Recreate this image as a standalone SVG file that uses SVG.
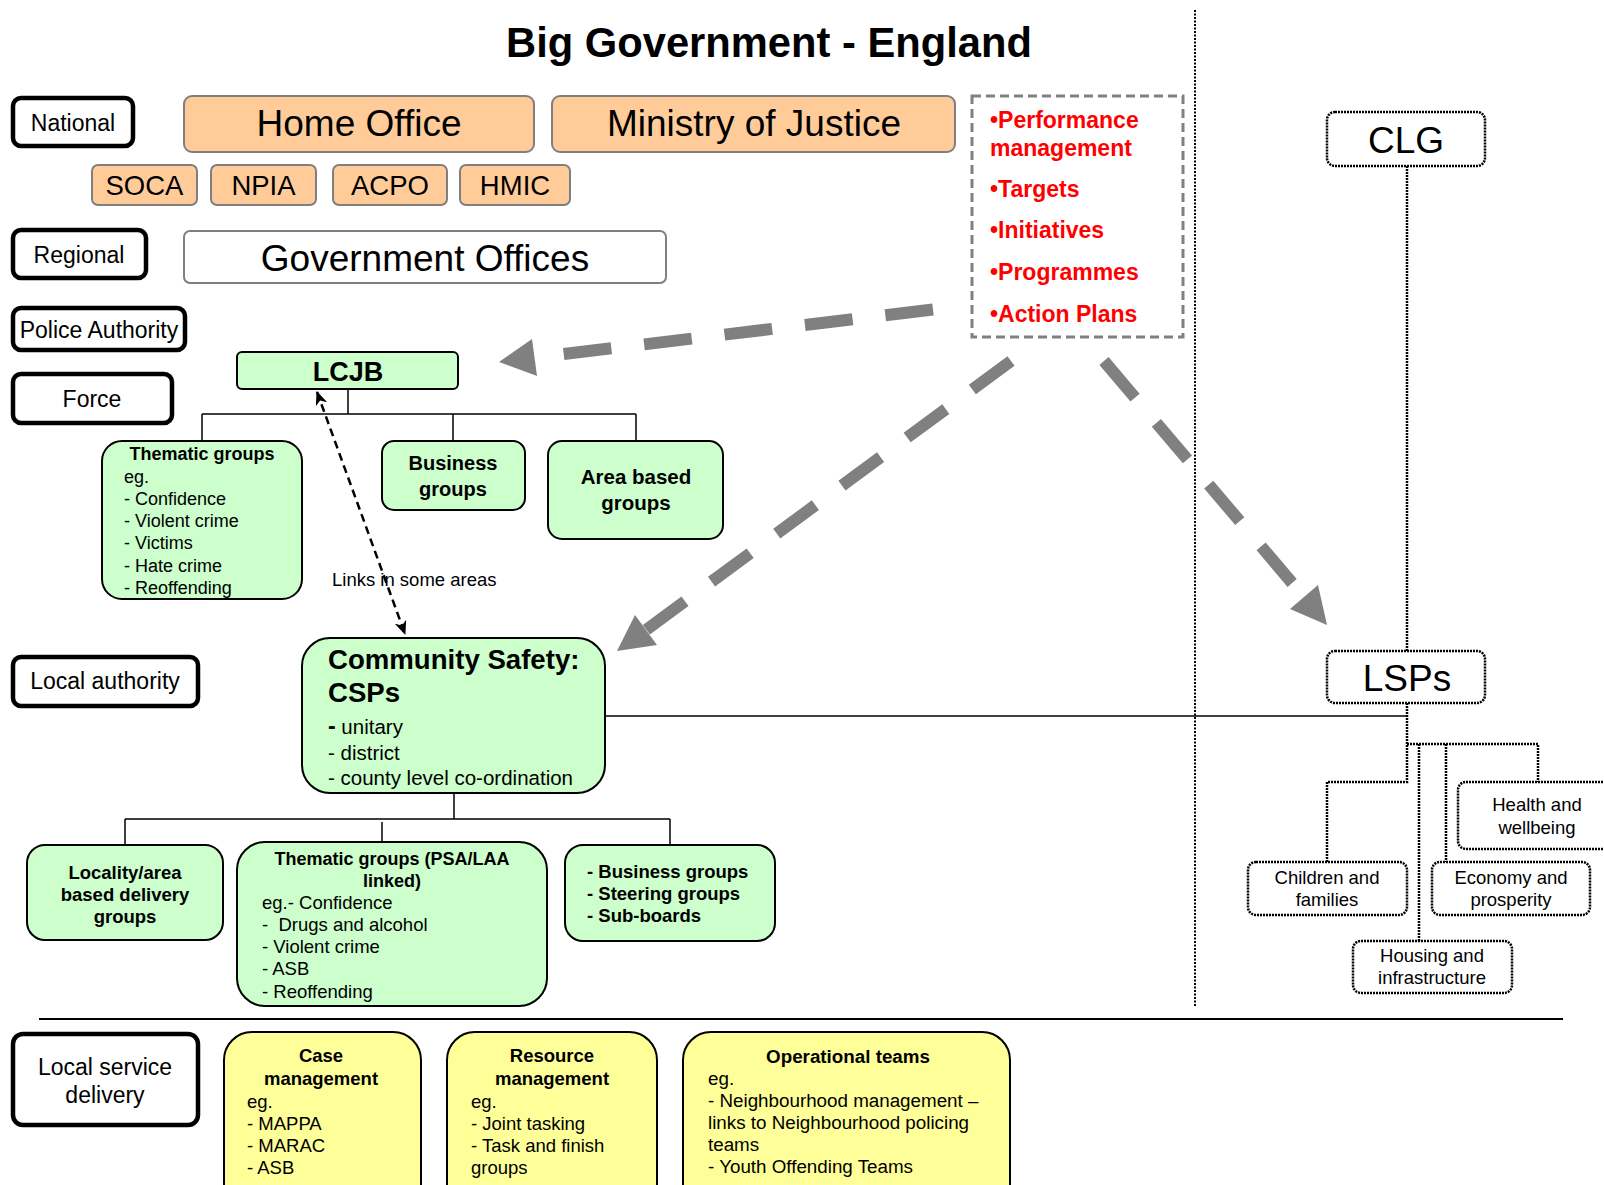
<svg xmlns="http://www.w3.org/2000/svg" width="1604" height="1185" viewBox="0 0 1604 1185">
<defs>
<style>
text{font-family:"Liberation Sans",Arial,sans-serif;fill:#000}
.lab rect{fill:#fff;stroke:#000;stroke-width:4.5}
.lab text{font-size:23px;text-anchor:middle}
.org rect{fill:#FFCC99;stroke:#7f7f7f;stroke-width:2}
.grn rect{fill:#CCFFCC;stroke:#000;stroke-width:2}
.yel rect{fill:#FFFF99;stroke:#000;stroke-width:2}
.dot rect{fill:#fff;stroke:#000;stroke-width:2.5;stroke-dasharray:2 1}
.dot text{font-size:18.5px;text-anchor:middle}
.b{font-weight:bold}
.c{text-anchor:middle}
.red{fill:#FF0000;font-weight:bold;font-size:23px}
.solid{fill:none;stroke:#000;stroke-width:1.5}
.dotl{fill:none;stroke:#000;stroke-width:2.5;stroke-dasharray:2 1}
.big{fill:none;stroke:#808080;stroke-width:12;stroke-dasharray:48 33}
.head{fill:#808080}
</style>
<marker id="ah" viewBox="0 0 14 12" refX="13" refY="6" markerWidth="14" markerHeight="12" markerUnits="userSpaceOnUse" orient="auto-start-reverse">
<path d="M0,0 L14,6 L0,12 L4,6 Z" fill="#000"/>
</marker>
</defs>
<rect width="1604" height="1185" fill="#fff"/>

<text x="769" y="57" class="b c" font-size="41.7">Big Government - England</text>

<g id="dividers">
<line x1="1195" y1="10" x2="1195" y2="1006" stroke="#000" stroke-width="2" stroke-dasharray="2 1.5"/>
<line x1="39" y1="1019" x2="1563" y2="1019" stroke="#000" stroke-width="2"/>
</g>

<g id="label-national" class="lab"><rect x="13" y="98" width="120" height="48" rx="8"/><text x="73" y="131">National</text></g>
<g id="label-regional" class="lab"><rect x="13" y="230" width="133" height="48" rx="8"/><text x="79" y="263">Regional</text></g>
<g id="label-police" class="lab"><rect x="13" y="308" width="172" height="42" rx="8"/><text x="99" y="338">Police Authority</text></g>
<g id="label-force" class="lab"><rect x="13" y="374" width="159" height="49" rx="8"/><text x="92" y="407">Force</text></g>
<g id="label-la" class="lab"><rect x="13" y="657" width="185" height="49" rx="8"/><text x="105" y="689">Local authority</text></g>
<g id="label-lsd" class="lab"><rect x="13" y="1034" width="185" height="91" rx="10"/><text x="105" y="1075">Local service</text><text x="105" y="1103">delivery</text></g>

<g id="home-office" class="org"><rect x="184" y="96" width="350" height="56" rx="8"/><text x="359" y="136" class="c" font-size="37">Home Office</text></g>
<g id="moj" class="org"><rect x="552" y="96" width="403" height="56" rx="8"/><text x="754" y="136" class="c" font-size="37">Ministry of Justice</text></g>
<g id="soca" class="org"><rect x="92" y="165" width="105" height="40" rx="6"/><text x="144.5" y="195" class="c" font-size="27.5">SOCA</text></g>
<g id="npia" class="org"><rect x="211" y="165" width="105" height="40" rx="6"/><text x="263.5" y="195" class="c" font-size="27.5">NPIA</text></g>
<g id="acpo" class="org"><rect x="333" y="165" width="114" height="40" rx="6"/><text x="390" y="195" class="c" font-size="27.5">ACPO</text></g>
<g id="hmic" class="org"><rect x="460" y="165" width="110" height="40" rx="6"/><text x="515" y="195" class="c" font-size="27.5">HMIC</text></g>

<g id="gov-offices"><rect x="184" y="231" width="482" height="52" rx="6" fill="#fff" stroke="#7f7f7f" stroke-width="2"/><text x="425" y="271" class="c" font-size="37">Government Offices</text></g>

<g id="perf-box">
<rect x="972" y="96" width="211" height="241" fill="none" stroke="#808080" stroke-width="3" stroke-dasharray="9 5"/>
<text x="990" y="128" class="red">•Performance</text>
<text x="990" y="156" class="red">management</text>
<text x="990" y="197" class="red">•Targets</text>
<text x="990" y="238" class="red">•Initiatives</text>
<text x="990" y="280" class="red">•Programmes</text>
<text x="990" y="322" class="red">•Action Plans</text>
</g>

<g id="clg" class="dot"><rect x="1327" y="112" width="158" height="54" rx="8"/><text x="1406" y="153" style="font-size:37px">CLG</text></g>
<g id="lsps" class="dot"><rect x="1327" y="651" width="158" height="52" rx="8"/><text x="1407" y="691" style="font-size:37px">LSPs</text></g>
<g id="health" class="dot"><rect x="1458" y="782" width="156" height="67" rx="8"/><text x="1537" y="811">Health and</text><text x="1537" y="834">wellbeing</text></g>
<g id="children" class="dot"><rect x="1248" y="862" width="159" height="53" rx="8"/><text x="1327" y="884">Children and</text><text x="1327" y="906">families</text></g>
<g id="economy" class="dot"><rect x="1432" y="862" width="158" height="53" rx="8"/><text x="1511" y="884">Economy and</text><text x="1511" y="906">prosperity</text></g>
<g id="housing" class="dot"><rect x="1353" y="941" width="159" height="52" rx="8"/><text x="1432" y="962">Housing and</text><text x="1432" y="984">infrastructure</text></g>

<g id="lcjb" class="grn"><rect x="237" y="352" width="221" height="37" rx="5"/><text x="348" y="381" class="b c" font-size="27">LCJB</text></g>

<g id="lcjb-thematic" class="grn" font-size="18">
<rect x="102" y="441" width="200" height="158" rx="20"/>
<text x="202" y="460" class="b c">Thematic groups</text>
<text x="124" y="483">eg.</text>
<text x="124" y="505">- Confidence</text>
<text x="124" y="527">- Violent crime</text>
<text x="124" y="549">- Victims</text>
<text x="124" y="572">- Hate crime</text>
<text x="124" y="594">- Reoffending</text>
</g>
<g id="lcjb-business" class="grn" font-size="20">
<rect x="382" y="441" width="143" height="69" rx="12"/>
<text x="453" y="470" class="b c">Business</text>
<text x="453" y="496" class="b c">groups</text>
</g>
<g id="lcjb-area" class="grn" font-size="20.5">
<rect x="548" y="441" width="175" height="98" rx="14"/>
<text x="636" y="484" class="b c">Area based</text>
<text x="636" y="510" class="b c">groups</text>
</g>

<g id="csp" class="grn">
<rect x="302" y="638" width="303" height="155" rx="28"/>
<text x="328" y="669" class="b" font-size="27.6">Community Safety:</text>
<text x="328" y="702" class="b" font-size="27.6">CSPs</text>
<text x="328" y="734" font-size="20.5"><tspan class="b" font-size="23">-</tspan> unitary</text>
<text x="328" y="760" font-size="20.5">- district</text>
<text x="328" y="785" font-size="20.5">- county level co-ordination</text>
</g>

<g id="locality" class="grn" font-size="18.5">
<rect x="27" y="845" width="196" height="95" rx="18"/>
<text x="125" y="879" class="b c">Locality/area</text>
<text x="125" y="901" class="b c">based delivery</text>
<text x="125" y="923" class="b c">groups</text>
</g>
<g id="csp-thematic" class="grn" font-size="18.5">
<rect x="237" y="842" width="310" height="164" rx="28"/>
<text x="392" y="865" class="b c" font-size="18">Thematic groups (PSA/LAA</text>
<text x="392" y="887" class="b c" font-size="18">linked)</text>
<text x="262" y="909">eg.- Confidence</text>
<text x="262" y="931" style="white-space:pre">-  Drugs and alcohol</text>
<text x="262" y="953">- Violent crime</text>
<text x="262" y="975">- ASB</text>
<text x="262" y="998">- Reoffending</text>
</g>
<g id="csp-business" class="grn" font-size="18.5">
<rect x="565" y="845" width="210" height="96" rx="18"/>
<text x="587" y="878" class="b">- Business groups</text>
<text x="587" y="900" class="b">- Steering groups</text>
<text x="587" y="922" class="b">- Sub-boards</text>
</g>

<g id="case" class="yel" font-size="18.5">
<rect x="224" y="1032" width="197" height="190" rx="28"/>
<text x="321" y="1062" class="b c">Case</text>
<text x="321" y="1085" class="b c">management</text>
<text x="247" y="1108">eg.</text>
<text x="247" y="1130">- MAPPA</text>
<text x="247" y="1152">- MARAC</text>
<text x="247" y="1174">- ASB</text>
</g>
<g id="resource" class="yel" font-size="18.5">
<rect x="447" y="1032" width="210" height="190" rx="28"/>
<text x="552" y="1062" class="b c">Resource</text>
<text x="552" y="1085" class="b c">management</text>
<text x="471" y="1108">eg.</text>
<text x="471" y="1130">- Joint tasking</text>
<text x="471" y="1152">- Task and finish</text>
<text x="471" y="1174">groups</text>
</g>
<g id="operational" class="yel" font-size="18.8">
<rect x="683" y="1032" width="327" height="190" rx="28"/>
<text x="848" y="1063" class="b c">Operational teams</text>
<text x="708" y="1085">eg.</text>
<text x="708" y="1107">- Neighbourhood management –</text>
<text x="708" y="1129">links to Neighbourhood policing</text>
<text x="708" y="1151">teams</text>
<text x="708" y="1173">- Youth Offending Teams</text>
</g>

<g id="connectors">
<path class="solid" d="M348 389V414M202 414H636M202 414V441M453 414V441M636 414V441"/>
<path class="solid" d="M454 793V819M125 819H670M125 819V845M382 822V842M670 819V845"/>
<path class="solid" d="M605 716H1407"/>
<path class="dotl" d="M1407 166V651M1407 703V782H1327V862M1407 744H1538V782M1419 744V941M1446 744V862"/>
<line x1="317" y1="392" x2="405" y2="634" stroke="#000" stroke-width="2.5" stroke-dasharray="8 5" marker-start="url(#ah)" marker-end="url(#ah)"/>
<text x="332" y="586" font-size="18.5">Links in some areas</text>
<line class="big" x1="933" y1="309.5" x2="535" y2="357.5"/>
<polygon class="head" points="499,362 532,339 537,376"/>
<line class="big" x1="1011" y1="361" x2="646" y2="630"/>
<polygon class="head" points="617,651 635,615 657,645"/>
<line class="big" x1="1104" y1="361" x2="1304" y2="597"/>
<polygon class="head" points="1327,625 1318,585 1290,609"/>
</g>
</svg>
